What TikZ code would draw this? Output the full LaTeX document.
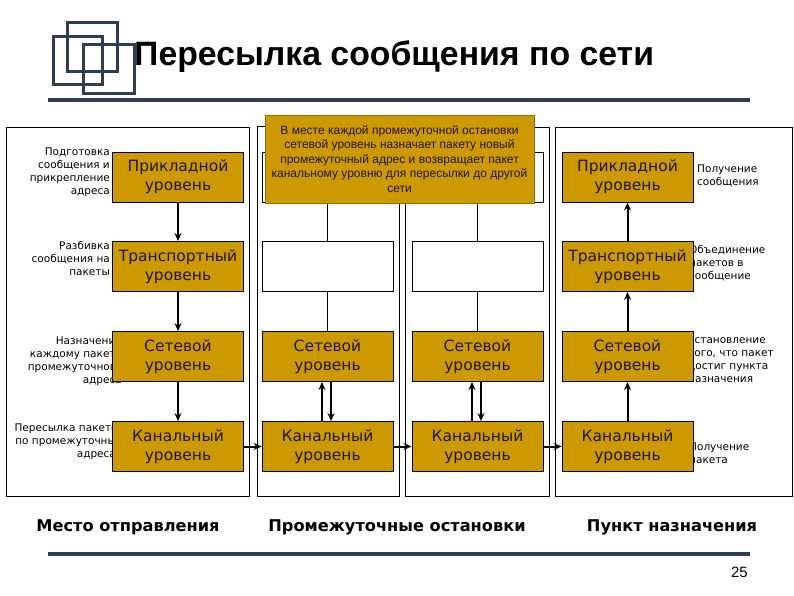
\documentclass[tikz,border=0pt]{standalone}
\usepackage{fontspec}
\setmainfont{DejaVu Sans}
\newfontfamily\lsans{Liberation Sans}
\usetikzlibrary{arrows.meta}
\definecolor{gold}{RGB}{204,153,0}
\definecolor{golddark}{RGB}{150,110,0}
\definecolor{slate}{RGB}{46,61,85}
\definecolor{boxtxt}{RGB}{35,22,0}
\tikzset{
  layer/.style={draw=black, line width=0.9pt, fill=gold, minimum width=131pt, minimum height=50pt, inner sep=0pt, align=center, text=boxtxt, font=\fontsize{15.5}{19}\selectfont},
  emptylayer/.style={draw=black, line width=0.9pt, fill=white, minimum width=131pt, minimum height=50pt, inner sep=0pt},
  panel/.style={draw=black, line width=1pt},
  sidelabel/.style={inner sep=0pt, font=\fontsize{10.5}{13}\selectfont},
  flow/.style={line width=2pt, -{Stealth[length=8pt,width=7pt]}},
  thinflow/.style={line width=1.2pt, -{Stealth[length=8pt,width=7pt]}},
  plain/.style={line width=0.9pt},
  caption/.style={font=\fontsize{16.2}{19}\selectfont\bfseries, inner sep=0pt},
  logo/.style={draw=slate, line width=3pt},
}
\begin{document}
\begin{tikzpicture}[x=1pt,y=-1pt]
\fill[white] (0,0) rectangle (794,595);
\useasboundingbox (0,0) rectangle (794,595);
% logo
\draw[logo] (67,22) rectangle (117,71);
\draw[logo] (53,36) rectangle (102,84);
\draw[logo] (83,44) rectangle (134,93);
% title
\node[anchor=base west, inner sep=0pt, font=\lsans\fontsize{33.8}{38}\selectfont\bfseries] (title) at (134,65) {Пересылка сообщения по сети};
\draw[slate, line width=4pt] (48,100) -- (750,100);
% panels
\draw[panel] (6,127) rectangle (249,496);
\draw[panel] (257,126) rectangle (399,496);
\draw[panel] (405,127) rectangle (549,496);
\draw[panel] (555,127) rectangle (792,496);
% left labels
\node[sidelabel, anchor=east, align=right] (l1) at (110,172) {Подготовка\\сообщения и\\прикрепление\\адреса};
\node[sidelabel, anchor=east, align=right] (l2) at (110,258) {Разбивка\\сообщения на\\пакеты};
\node[sidelabel, anchor=east, align=right] (l3) at (122,361) {Назначение\\каждому пакету\\промежуточного\\адреса};
\node[sidelabel, anchor=east, align=right] (l4) at (124,442) {Пересылка пакетов\\по промежуточным\\адресам};
% right labels
\node[sidelabel, anchor=west, align=left] (r1) at (697,176) {Получение\\сообщения};
\node[sidelabel, anchor=west, align=left] (r2) at (689,263) {Объединение\\пакетов в\\сообщение};
\node[sidelabel, anchor=west, align=left] (r3) at (688,359) {Установление\\того, что пакет\\достиг пункта\\назначения};
\node[sidelabel, anchor=west, align=left] (r4) at (689,453) {Получение\\пакета};
% panel 1
\node[layer] (p1a) at (178,177) {Прикладной\\уровень};
\node[layer] (p1t) at (178,266.5) {Транспортный\\уровень};
\node[layer] (p1n) at (178,356.5) {Сетевой\\уровень};
\node[layer] (p1l) at (178,446.5) {Канальный\\уровень};
% panel 2
\node[emptylayer] (p2a) at (327.5,177) {};
\node[emptylayer] (p2t) at (327.5,266.5) {};
\node[layer] (p2n) at (327.5,356.5) {Сетевой\\уровень};
\node[layer] (p2l) at (327.5,446.5) {Канальный\\уровень};
% panel 3
\node[emptylayer] (p3a) at (477.5,177) {};
\node[emptylayer] (p3t) at (477.5,266.5) {};
\node[layer] (p3n) at (477.5,356.5) {Сетевой\\уровень};
\node[layer] (p3l) at (477.5,446.5) {Канальный\\уровень};
% panel 4
\node[layer] (p4a) at (627.5,177) {Прикладной\\уровень};
\node[layer] (p4t) at (627.5,266.5) {Транспортный\\уровень};
\node[layer] (p4n) at (627.5,356.5) {Сетевой\\уровень};
\node[layer] (p4l) at (627.5,446.5) {Канальный\\уровень};
% arrows panel 1 (down)
\draw[flow] (p1a) -- (p1t);
\draw[flow] (p1t) -- (p1n);
\draw[flow] (p1n) -- (p1l);
% arrows panel 4 (up)
\draw[flow] (p4l) -- (p4n);
\draw[flow] (p4n) -- (p4t);
\draw[flow] (p4t) -- (p4a);
% panel 2/3 thin lines
\draw[plain] (p2a) -- (p2t);
\draw[plain] (p2t) -- (p2n);
\draw[plain] (p3a) -- (p3t);
\draw[plain] (p3t) -- (p3n);
% up/down pairs
\draw[thinflow] ([xshift=-5.5pt]p2l.north) -- ([xshift=-5.5pt]p2n.south);
\draw[flow] ([xshift=3.5pt]p2n.south) -- ([xshift=3.5pt]p2l.north);
\draw[thinflow] ([xshift=-5.5pt]p3l.north) -- ([xshift=-5.5pt]p3n.south);
\draw[flow] ([xshift=3.5pt]p3n.south) -- ([xshift=3.5pt]p3l.north);
% horizontal arrows
\draw[flow] (p1l) -- (p2l);
\draw[flow] (p2l) -- (p3l);
\draw[flow] (p3l) -- (p4l);
% callout
\node[draw=golddark, line width=0.8pt, fill=gold, minimum width=269pt, minimum height=88pt, inner sep=0pt, align=center, text=boxtxt, font=\lsans\fontsize{12}{14.5}\selectfont] (note) at (399.5,159) {В месте каждой промежуточной остановки\\сетевой уровень назначает пакету новый\\промежуточный адрес и возвращает пакет\\канальному уровню для пересылки до другой\\сети};
% captions
\node[caption] (c1) at (128,527) {Место отправления};
\node[caption] (c2) at (397,527) {Промежуточные остановки};
\node[caption] (c3) at (672,527) {Пункт назначения};
\draw[slate, line width=3.5pt] (48,554) -- (750,554);
\node[anchor=base east, inner sep=0pt, font=\lsans\fontsize{15}{18}\selectfont] (pg) at (748,577) {25};
\end{tikzpicture}
\end{document}
